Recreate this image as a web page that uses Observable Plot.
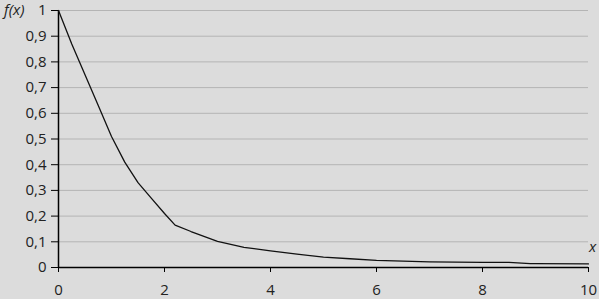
<!DOCTYPE html>
<html><head><meta charset="utf-8">
<script src="https://cdn.jsdelivr.net/npm/d3@7"></script>
<script src="https://cdn.jsdelivr.net/npm/@observablehq/plot@0.6"></script>
<style>
html,body{margin:0;padding:0;background:#dcdcdc;}
#chart{position:relative;width:599px;height:299px;}
.lab{position:absolute;font-family:"Open Sans",sans-serif;font-style:italic;font-size:15px;line-height:17px;color:#222;}
</style></head>
<body><div id="chart"></div>
<script>
const xs = [0, 0.25, 0.5, 0.75, 1, 1.25, 1.5, 1.75, 2, 2.2, 2.5, 3, 3.5, 4, 4.5, 5, 5.5, 6, 7, 8, 8.5, 8.9, 9, 10];
const fx = [1, 0.87, 0.75, 0.63, 0.51, 0.41, 0.33, 0.27, 0.21, 0.165, 0.14, 0.102, 0.078, 0.065, 0.052, 0.04, 0.034, 0.028, 0.022, 0.02, 0.02, 0.015, 0.015, 0.014];
const yTicks = [0, 0.1, 0.2, 0.3, 0.4, 0.5, 0.6, 0.7, 0.8, 0.9, 1];
const xTicks = [0, 2, 4, 6, 8, 10];
const data = xs.map((x, i) => ({x, y: fx[i]}));

const plot = Plot.plot({
  width: 599, height: 299,
  marginLeft: 58, marginRight: 11, marginTop: 10, marginBottom: 32,
  style: {background: "#dcdcdc", fontFamily: "Open Sans, sans-serif", fontSize: "15px", color: "#222"},
  x: {domain: [0, 10], ticks: xTicks, label: null},
  y: {domain: [0, 1], ticks: yTicks, label: null},
  marks: [
    Plot.gridY(yTicks.filter(d => d > 0), {stroke: "#b4b4b4", strokeOpacity: 1, strokeWidth: 1}),
    Plot.axisY(yTicks, {tickSize: 7, tickPadding: 5, tickFormat: d => String(d).replace(".", ","), stroke: "#000", fill: "#222"}),
    Plot.axisX(xTicks, {tickSize: 5, tickPadding: 12, stroke: "#000", fill: "#222"}),
    Plot.ruleY([0], {stroke: "#000", strokeWidth: 1.5}),
    Plot.ruleX([0], {stroke: "#000", strokeWidth: 1.5}),
    Plot.line(data, {x: "x", y: "y", stroke: "#111", strokeWidth: 1.3})
  ]
});
const c = document.getElementById("chart");
c.appendChild(plot);
const l1 = document.createElement("div"); l1.className = "lab"; l1.textContent = "f(x)"; l1.style.left = "4px"; l1.style.top = "1px"; c.appendChild(l1);
const l2 = document.createElement("div"); l2.className = "lab"; l2.textContent = "x"; l2.style.left = "589px"; l2.style.top = "238px"; c.appendChild(l2);
</script></body></html>
